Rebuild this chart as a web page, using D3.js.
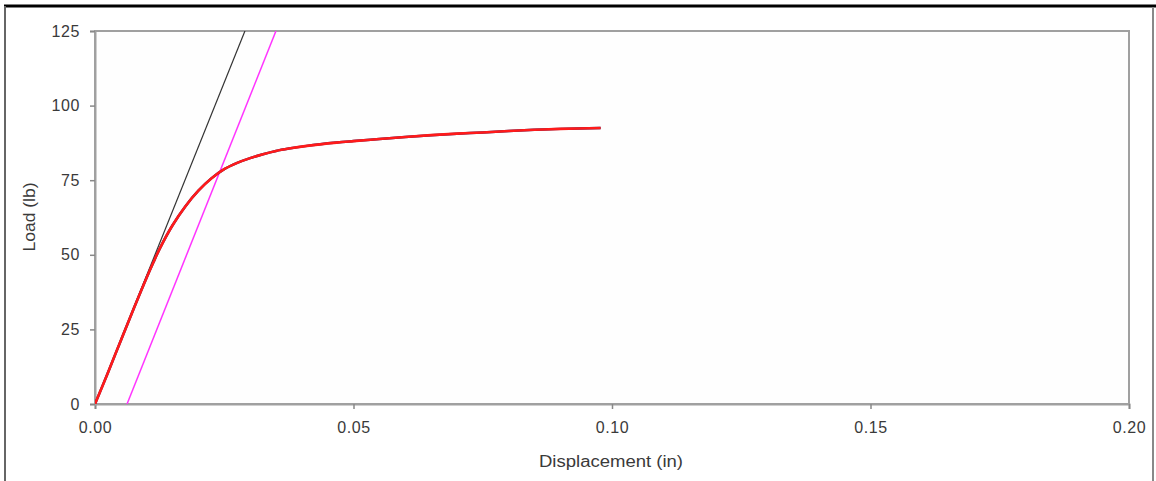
<!DOCTYPE html>
<html>
<head>
<meta charset="utf-8">
<script src="https://cdn.jsdelivr.net/npm/d3@7"></script>
<style>
  html, body { margin: 0; padding: 0; background: #ffffff; }
  svg { display: block; }
  text { font-family: "Liberation Sans", Arial, sans-serif; }
</style>
</head>
<body>
<svg id="chart" width="1156" height="481"></svg>
<script>
// ---- data ----
const xTicks = [0, 0.05, 0.10, 0.15, 0.20];
const xTickLabels = ["0.00", "0.05", "0.10", "0.15", "0.20"];
const yTicks = [0, 25, 50, 75, 100, 125];
const yTickLabels = ["0", "25", "50", "75", "100", "125"];

const dispData = [0, 0.0025, 0.005, 0.0075, 0.010, 0.0113, 0.0125, 0.015, 0.0175, 0.020, 0.0225, 0.025, 0.0275, 0.030, 0.0325, 0.035, 0.0375, 0.041, 0.0467, 0.050, 0.055, 0.060, 0.065, 0.070, 0.075, 0.080, 0.085, 0.090, 0.0978];
const loadData = [0, 10.5, 21.3, 32, 42.4, 47.5, 52.0, 59.9, 66.3, 71.5, 75.6, 78.7, 80.8, 82.4, 83.7, 84.8, 85.6, 86.5, 87.6, 88.1, 88.8, 89.5, 90.1, 90.6, 91.0, 91.5, 91.9, 92.2, 92.5];

// elastic slope line through origin
const slopeX = [0, 0.0290];
const slopeY = [0, 125];
// offset line (parallel)
const offsetX = [0.0062, 0.0350];
const offsetY = [0, 125];

const xLabel = "Displacement (in)";
const yLabel = "Load (lb)";

// ---- layout ----
const svg = d3.select("#chart");
const W = 1156, H = 481;
const m = { left: 95, right: 1129, top: 31, bottom: 404 };

// outer frame
svg.append("rect").attr("x", 0).attr("y", 0).attr("width", W).attr("height", H).attr("fill", "#ffffff");
svg.append("line").attr("x1", 4).attr("x2", W).attr("y1", 6).attr("y2", 6).attr("stroke", "#000").attr("stroke-width", 3);
svg.append("line").attr("x1", 5).attr("x2", 5).attr("y1", 6).attr("y2", H).attr("stroke", "#666").attr("stroke-width", 2);
svg.append("line").attr("x1", 1153).attr("x2", 1153).attr("y1", 7).attr("y2", H).attr("stroke", "#888").attr("stroke-width", 2);

const x = d3.scaleLinear().domain([0, 0.2]).range([m.left, m.right]);
const y = d3.scaleLinear().domain([0, 125]).range([m.bottom, m.top]);

// plot area
svg.append("rect").attr("x", m.left).attr("y", m.top)
  .attr("width", m.right - m.left).attr("height", m.bottom - m.top)
  .attr("fill", "#fefefe").attr("stroke", "#a0a0a0").attr("stroke-width", 2);

// axes
const xAxis = d3.axisBottom(x).tickValues(xTicks).tickSize(5).tickPadding(13)
  .tickFormat((d, i) => xTickLabels[i]);
const gx = svg.append("g").attr("transform", `translate(0,${m.bottom})`).call(xAxis);
const yAxis = d3.axisLeft(y).tickValues(yTicks).tickSize(5).tickPadding(10)
  .tickFormat((d, i) => yTickLabels[i]);
const gy = svg.append("g").attr("transform", `translate(${m.left},0)`).call(yAxis);
[gx, gy].forEach(g => {
  g.select(".domain").attr("stroke", "#a0a0a0").attr("stroke-width", 2);
  g.selectAll(".tick line").attr("stroke", "#888").attr("stroke-width", 1.5);
  g.selectAll(".tick text").attr("fill", "#3a3a3a").attr("font-size", 16)
    .attr("letter-spacing", "0.6px")
    .attr("font-family", "Liberation Sans, Arial, sans-serif");
});

// lines
const line = d3.line().x(d => x(d[0])).y(d => y(d[1]));
svg.append("clipPath").attr("id", "clip").append("rect")
  .attr("x", m.left).attr("y", m.top).attr("width", m.right - m.left).attr("height", m.bottom - m.top);
const plot = svg.append("g").attr("clip-path", "url(#clip)");

plot.append("path").datum(d3.zip(slopeX, slopeY)).attr("d", line)
  .attr("fill", "none").attr("stroke", "#333").attr("stroke-width", 1.2);
plot.append("path").datum(d3.zip(offsetX, offsetY)).attr("d", line)
  .attr("fill", "none").attr("stroke", "#ff33ff").attr("stroke-width", 1.5);

const curve = d3.line().x(d => x(d[0])).y(d => y(d[1])).curve(d3.curveCatmullRom.alpha(0.5));
const pts = d3.zip(dispData, loadData);
// underlying measured series (dark)
plot.append("path").datum(pts).attr("d", curve)
  .attr("fill", "none").attr("stroke", "#222266").attr("stroke-width", 2.5);
// red fit
plot.append("path").datum(pts).attr("d", curve)
  .attr("fill", "none").attr("stroke", "#ff1a1a").attr("stroke-width", 2.6);

// axis titles
svg.append("text").attr("x", 611).attr("y", 467).attr("text-anchor", "middle")
  .attr("font-size", 16).attr("fill", "#3a3a3a")
  .attr("textLength", 144).attr("lengthAdjust", "spacingAndGlyphs").text(xLabel);
svg.append("text").attr("transform", "translate(35,217) rotate(-90)").attr("text-anchor", "middle")
  .attr("font-size", 16).attr("fill", "#3a3a3a")
  .attr("textLength", 69).attr("lengthAdjust", "spacingAndGlyphs").text(yLabel);
</script>
</body>
</html>
